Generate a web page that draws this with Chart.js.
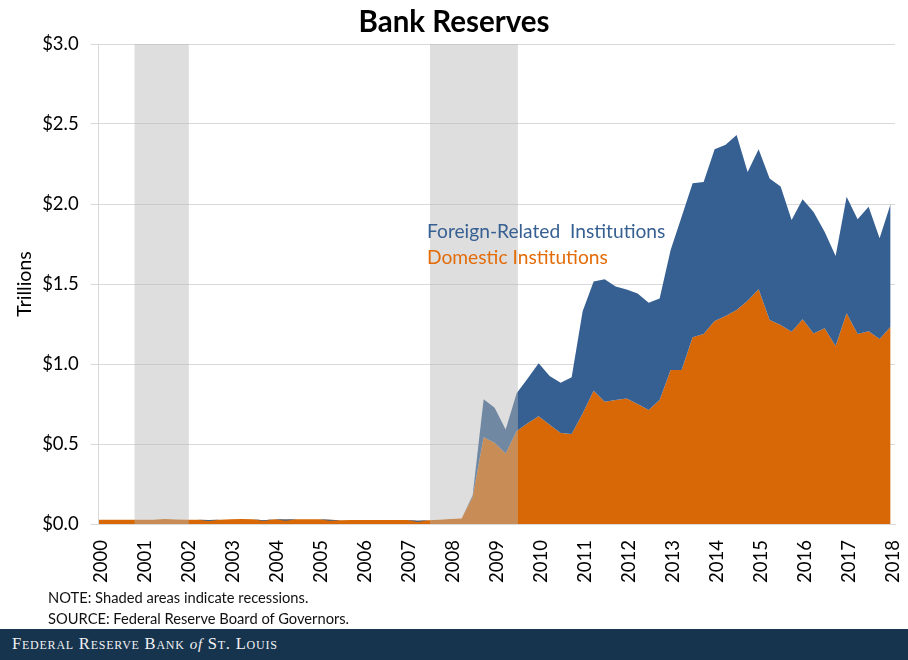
<!DOCTYPE html>
<html>
<head>
<meta charset="utf-8">
<title>Bank Reserves</title>
<script src="https://cdn.jsdelivr.net/npm/chart.js@4"></script>
<style>
    body { margin: 0; background: #fff; }
    #wrap { position: relative; width: 908px; height: 660px; overflow: hidden; font-family: Lato, sans-serif; }
    canvas { position: absolute; left: 0; top: 0; }
    .label { position: absolute; white-space: pre; font-size: 19.2px; line-height: 22px; }
    .note { position: absolute; left: 48px; white-space: pre; font-size: 14.7px; line-height: 18px; color: #111; }
    #footer { position: absolute; left: 0; top: 629px; width: 908px; height: 31px; background: #17344f; color: #f2f2f2;
        font-family: "Liberation Serif", serif; font-variant: small-caps; font-size: 16.5px; line-height: 29px; letter-spacing: 0.78px; text-indent: 12px; }
    #footer i { font-size: 15px; font-variant: normal; }
</style>
</head>
<body>
<div id="wrap">
    <canvas id="chart" width="908" height="630"></canvas>
    <div class="label" style="left:427px;top:220px;color:#366092">Foreign-Related  Institutions</div>
    <div class="label" style="left:427px;top:246px;color:#e36c09">Domestic Institutions</div>
    <div class="note" style="top:588px">NOTE: Shaded areas indicate recessions.</div>
    <div class="note" style="top:609px">SOURCE: Federal Reserve Board of Governors.</div>
    <div id="footer">Federal Reserve Bank <i>of</i> St. Louis</div>
</div>
<script>
const quarters = [
    2000, 2000.25, 2000.5, 2000.75, 2001, 2001.25, 2001.5, 2001.75, 2002, 2002.25, 2002.5, 2002.75,
    2003, 2003.25, 2003.5, 2003.75, 2004, 2004.25, 2004.5, 2004.75, 2005, 2005.25, 2005.5, 2005.75,
    2006, 2006.25, 2006.5, 2006.75, 2007, 2007.25, 2007.5, 2007.75, 2008, 2008.25, 2008.5, 2008.75,
    2009, 2009.25, 2009.5, 2009.75, 2010, 2010.25, 2010.5, 2010.75, 2011, 2011.25, 2011.5, 2011.75,
    2012, 2012.25, 2012.5, 2012.75, 2013, 2013.25, 2013.5, 2013.75, 2014, 2014.25, 2014.5, 2014.75,
    2015, 2015.25, 2015.5, 2015.75, 2016, 2016.25, 2016.5, 2016.75, 2017, 2017.25, 2017.5, 2017.75, 2018
];
const domestic = [
    .026, .026, .026, .026, .026, .027, .031, .028, .026, .026, .025, .026,
    .030, .031, .030, .024, .030, .028, .030, .030, .030, .027, .024, .025,
    .025, .025, .025, .025, .025, .020, .024, .026, .032, .035, .170, .542,
    .508, .440, .581, .630, .673, .620, .569, .562, .690, .833, .764, .775,
    .785, .750, .712, .775, .962, .962, 1.167, 1.187, 1.269, 1.300, 1.337, 1.396,
    1.467, 1.275, 1.244, 1.202, 1.279, 1.190, 1.223, 1.112, 1.317, 1.187, 1.204, 1.156, 1.233
];
// domestic plus foreign-related, read from the top edge of the blue area
const total = [
    .026, .026, .026, .026, .026, .027, .031, .028, .026, .026, .018, .026,
    .030, .031, .030, .018, .030, .020, .030, .030, .030, .020, .024, .025,
    .025, .025, .025, .025, .025, .012, .024, .026, .032, .035, .180, .780,
    .727, .590, .817, .910, 1.005, .925, .883, .917, 1.330, 1.515, 1.530, 1.485,
    1.465, 1.440, 1.383, 1.410, 1.712, 1.920, 2.130, 2.137, 2.342, 2.370, 2.431, 2.200,
    2.342, 2.160, 2.110, 1.900, 2.030, 1.950, 1.827, 1.675, 2.046, 1.904, 1.983, 1.786, 2.000
];
const recessionStart = [2000.81, 2007.53];
const recessionEnd = [2002.05, 2009.53];

const BLUE = '#366092';
const ORANGE = '#d76805';
const GRID = '#d9d9d9';
const TICK_FONT = { family: 'Lato, sans-serif', size: 18.5 };

function toPoints(values) {
    return values.map((v, i) => ({ x: quarters[i], y: v }));
}

const datasets = [
    {
        label: 'Domestic Institutions',
        data: toPoints(domestic),
        order: 2,
        fill: 'origin',
        backgroundColor: ORANGE,
        borderWidth: 0,
        pointRadius: 0,
        tension: 0
    },
    {
        label: 'Foreign-Related Institutions',
        data: toPoints(total),
        order: 1,
        fill: { target: 0, above: BLUE, below: BLUE },
        borderWidth: 0,
        pointRadius: 0,
        tension: 0
    }
];

// recession bands go on top of the areas, that is why the series look washed out under them
recessionStart.forEach((start, i) => {
    datasets.push({
        label: 'Recession',
        data: [{ x: start, y: 3 }, { x: recessionEnd[i], y: 3 }],
        order: 0,
        fill: 'origin',
        backgroundColor: 'rgba(183, 183, 183, 0.46)',
        borderWidth: 0,
        pointRadius: 0
    });
});

new Chart(document.getElementById('chart'), {
    type: 'line',
    data: { datasets: datasets },
    options: {
        responsive: false,
        animation: false,
        plugins: {
            legend: { display: false },
            tooltip: { enabled: false },
            title: {
                display: true,
                text: 'Bank Reserves',
                color: '#000',
                font: { family: 'Lato, sans-serif', size: 29.5, weight: 'bold', lineHeight: 1.2 },
                padding: { top: 5, bottom: 3.6 }
            }
        },
        scales: {
            x: {
                type: 'linear',
                min: 2000,
                max: 2018.1,
                // rotated labels make the scale reserve its own room, set it by hand
                afterFit: (scale) => { scale.height = 106; scale.paddingLeft = 0; scale.paddingRight = 13; },
                grid: { display: false, drawTicks: true, tickLength: 8, tickColor: GRID },
                border: { color: GRID },
                ticks: {
                    stepSize: 1,
                    includeBounds: false,
                    minRotation: 90,
                    maxRotation: 90,
                    padding: 8,
                    labelOffset: 2,
                    color: '#000',
                    font: TICK_FONT,
                    callback: (v) => String(v)
                }
            },
            y: {
                min: 0,
                max: 3,
                afterFit: (scale) => { scale.width = 98.7; },
                grid: { color: GRID, tickLength: 8 },
                border: { color: GRID },
                title: {
                    display: true,
                    text: 'Trillions',
                    color: '#000',
                    font: { family: 'Lato, sans-serif', size: 19.5 },
                    padding: { top: 13, bottom: 0 }
                },
                ticks: {
                    stepSize: 0.5,
                    padding: 12,
                    color: '#000',
                    font: TICK_FONT,
                    callback: (v) => '$' + v.toFixed(1)
                }
            }
        }
    }
});
</script>
</body>
</html>
